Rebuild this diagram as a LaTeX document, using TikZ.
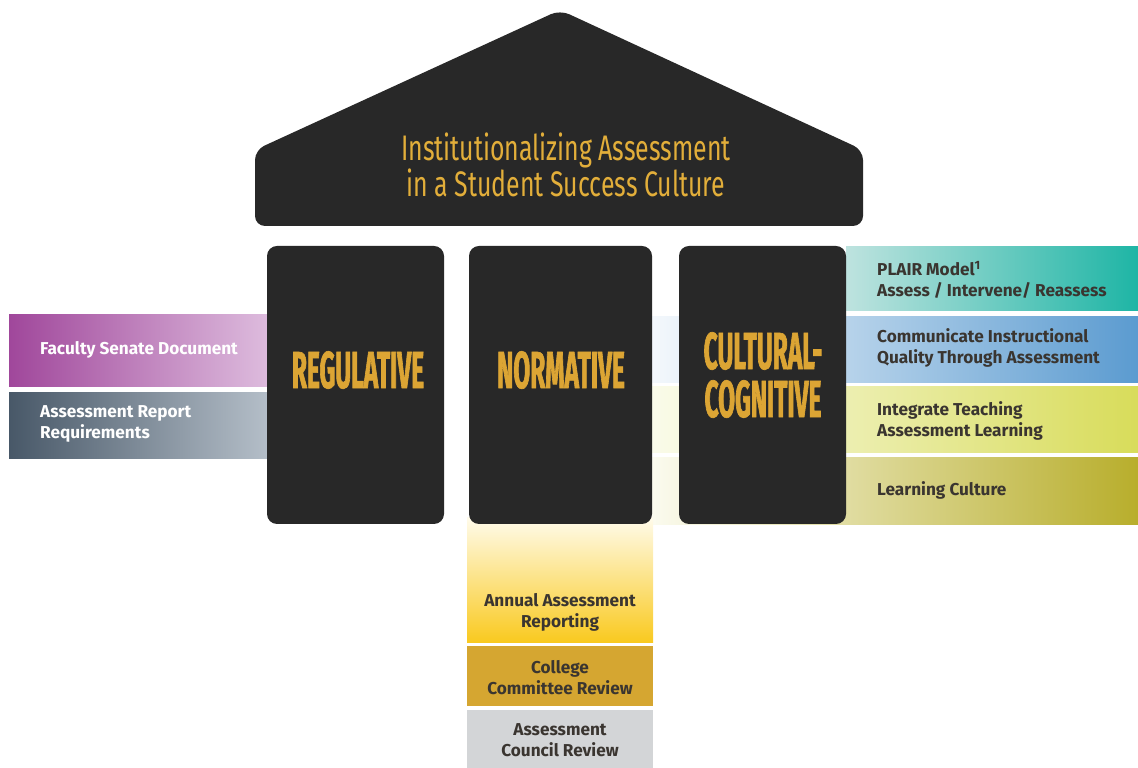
\documentclass[tikz,border=0pt]{standalone}
\usepackage{fontspec}
\setmainfont{Fira Sans}
\newfontfamily\rooffont[FakeStretch=0.70]{Fira Sans}
\newfontfamily\pillarfont[FakeStretch=0.47,FakeBold=1.2]{Fira Sans}
\definecolor{pillarblack}{HTML}{282828}
\definecolor{pillargold}{HTML}{DCA534}
\definecolor{roofgold}{HTML}{E2AE3A}
\definecolor{darktext}{HTML}{3A3530}
\definecolor{facultyL}{HTML}{A0479B}
\definecolor{facultyR}{HTML}{DDBBDD}
\definecolor{reportL}{HTML}{485868}
\definecolor{reportR}{HTML}{B4BEC8}
\definecolor{plairL}{HTML}{BEE3DF}
\definecolor{plairR}{HTML}{1EB5A5}
\definecolor{commL}{HTML}{F4F8FC}
\definecolor{commR}{HTML}{5B9BD0}
\definecolor{integL}{HTML}{FAFBEA}
\definecolor{integR}{HTML}{D8DC5A}
\definecolor{learnL}{HTML}{FBFBEF}
\definecolor{learnR}{HTML}{B8AE2C}
\definecolor{annualT}{HTML}{FFFBEA}
\definecolor{annualB}{HTML}{F9C91E}
\definecolor{collegefill}{HTML}{D5A631}
\definecolor{councilfill}{HTML}{D3D5D7}
\begin{document}
\begin{tikzpicture}[x=1pt, y=1pt,
    pillar/.style={fill=pillarblack, rounded corners=10pt},
    pillarlabel/.style={text=pillargold, font=\pillarfont\bfseries\fontsize{52}{48}\selectfont, align=center, inner sep=0pt},
    boxtext/.style={font=\bfseries\fontsize{17.2}{21}\selectfont, align=left, anchor=west, inner sep=0pt},
    darkbox/.style={boxtext, text=darktext},
    whitebox/.style={boxtext, text=white},
    bottombox/.style={boxtext, text=darktext, align=center, anchor=center}]
    \useasboundingbox (0,0) rectangle (1138,768);

    % side boxes, left
    \shade[left color=facultyL, right color=facultyR] (9,453) rectangle (267,381);
    \shade[left color=reportL, right color=reportR] (9,375) rectangle (267,309);
    \node[whitebox] (faculty) at (40,418) {Faculty Senate Document};
    \node[whitebox] (report) at (40,344) {Assessment Report\\Requirements};

    % side boxes, right
    \shade[left color=plairL, right color=plairR] (846,521) rectangle (1138,457);
    \shade[left color=commL, right color=commR] (652,451) rectangle (1138,385);
    \shade[left color=integL, right color=integR] (652,381) rectangle (1138,315);
    \shade[left color=learnL, right color=learnR] (652,310) rectangle (1138,243);
    \node[darkbox] (plair) at (877,488) {PLAIR Model\textsuperscript{1}\\Assess / Intervene/ Reassess};
    \node[darkbox] (communicate) at (877,420) {Communicate Instructional\\Quality Through Assessment};
    \node[darkbox] (integrate) at (877,347) {Integrate Teaching\\Assessment Learning};
    \node[darkbox] (culture) at (877,278) {Learning Culture};

    % boxes below
    \shade[top color=annualT, bottom color=annualB] (467,250) rectangle (653,125);
    \fill[collegefill] (467,122) rectangle (653,62);
    \fill[councilfill] (467,58) rectangle (653,0);
    \node[bottombox] (annual) at (560,156) {Annual Assessment\\Reporting};
    \node[bottombox] (college) at (560,90) {College\\Committee Review};
    \node[bottombox] (council) at (560,28) {Assessment\\Council Review};

    % roof and pillars
    \fill[pillarblack, rounded corners=10pt] (255,542) -- (255,618) -- (560,758) -- (863,618) -- (863,542) -- cycle;
    \node[text=roofgold, font=\rooffont\fontsize{35.5}{35}\selectfont, align=center] (roof) at (566,603) {Institutionalizing Assessment\\in a Student Success Culture};

    \fill[pillar] (267,244) rectangle (444,522);
    \fill[pillar] (469,244) rectangle (652,522);
    \fill[pillar] (679,244) rectangle (846,522);
    \node[pillarlabel] (regulative) at (358,398) {REGULATIVE};
    \node[pillarlabel] (normative) at (561,398) {NORMATIVE};
    \node[pillarlabel] (cognitive) at (763,393) {CULTURAL-\\COGNITIVE};
\end{tikzpicture}
\end{document}
